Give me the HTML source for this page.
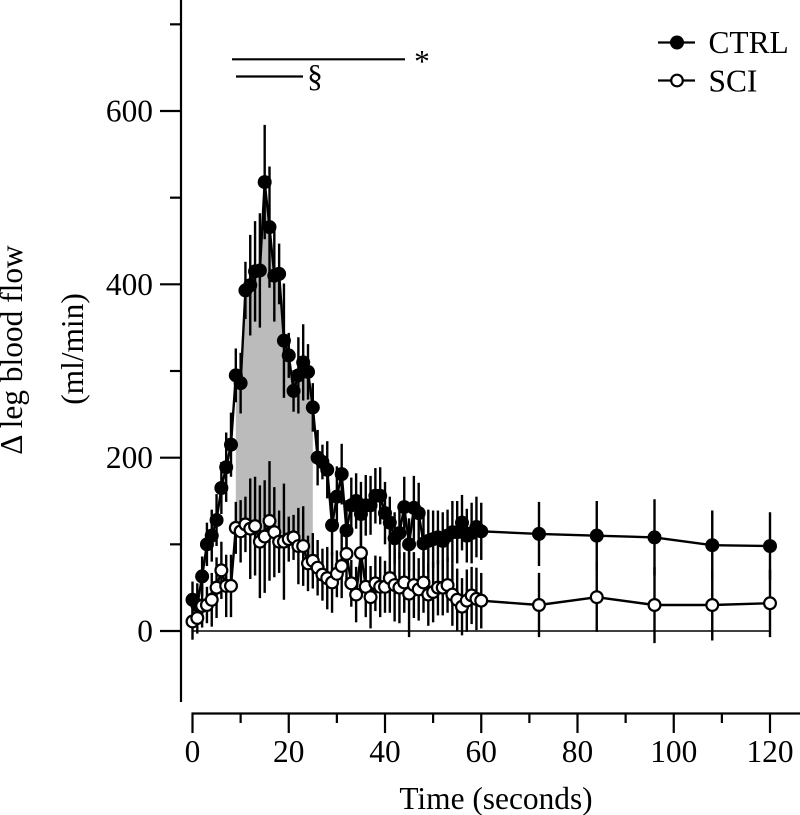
<!DOCTYPE html>
<html lang="en">
<head>
<meta charset="utf-8">
<title>Leg blood flow over time</title>
<style>
html,body{margin:0;padding:0;background:#fff;width:800px;height:815px;overflow:hidden}
svg{display:block}
text{font-family:"Liberation Serif","DejaVu Serif",serif;font-size:31.4px;fill:#000}
</style>
</head>
<body>
<svg id="chart" width="800" height="815" viewBox="0 0 800 815" xmlns="http://www.w3.org/2000/svg">
  <g id="fill-layer"></g>
  <g id="zero-layer"></g>
  <g id="axis-layer"></g>
  <g id="ctrl-layer"></g>
  <g id="sci-layer"></g>
  <text transform="translate(22,350) rotate(-90)" text-anchor="middle">Δ leg blood flow</text>
  <text transform="translate(83,349) rotate(-90)" text-anchor="middle">(ml/min)</text>
  <text x="496" y="809" text-anchor="middle">Time (seconds)</text>
  <line x1="232" y1="59.3" x2="405" y2="59.3" stroke="#000" stroke-width="2.2"/>
  <line x1="236" y1="76.5" x2="303" y2="76.5" stroke="#000" stroke-width="2.2"/>
  <text x="422" y="72" text-anchor="middle">*</text>
  <text x="315" y="86.5" text-anchor="middle">§</text>
  <g>
    <g>
      <line x1="658" y1="42.5" x2="695" y2="42.5" stroke="#000" stroke-width="2.2"/>
      <circle cx="677" cy="42.5" r="7" fill="#000"/>
      <text x="708.5" y="53">CTRL</text>
    </g>
    <g>
      <line x1="658" y1="80.5" x2="695" y2="80.5" stroke="#000" stroke-width="2.2"/>
      <circle cx="677" cy="80.5" r="5.8" fill="#fff" stroke="#000" stroke-width="2.2"/>
      <text x="708.5" y="91.5">SCI</text>
    </g>
  </g>
</svg>
<script>
const times = [0,1,2,3,4,5,6,7,8,9,10,11,12,13,14,15,16,17,18,19,20,21,22,23,24,25,26,27,28,29,30,31,32,33,34,35,36,37,38,39,40,41,42,43,44,45,46,47,48,49,50,51,52,53,54,55,56,57,58,59,60,72,84,96,108,120];
const ctrlValues = [36,30,63,100,110,128,165,189,215,295,286,393,399,415,416,518,466,410,412,335,318,277,295,310,299,258,200,195,186,122,155,181,116,145,150,135,145,145,156,156,136,125,107,113,143,100,142,136,101,104,106,108,104,110,114,114,125,110,113,120,115,112,110,108,99,98];
const ctrlErrors = [21,25,23,25,30,30,30,40,37,31,35,33,58,58,66,66,70,53,35,66,26,24,44,44,32,28,32,20,33,35,35,35,35,32,32,37,35,34,32,33,36,30,30,30,35,30,37,35,36,36,33,31,33,30,36,36,32,31,35,35,33,37,40,44,40,39];
const sciValues = [11,15,29,30,36,50,70,52,52,119,115,123,118,121,103,109,127,114,103,103,106,108,98,98,78,81,73,65,61,56,66,75,89,55,42,90,51,39,55,51,51,61,53,50,56,43,53,48,56,42,45,50,50,53,42,36,28,35,41,37,35,30,39,30,30,32];
const sciErrors = [21,18,25,21,31,35,33,36,36,30,36,32,58,57,65,65,69,52,36,67,26,26,44,46,32,32,32,30,36,35,27,37,36,27,32,37,35,36,32,35,30,40,42,41,35,50,38,36,35,36,35,32,32,32,36,36,33,36,33,36,32,37,40,44,41,39];
const xMajorTicks = [0,20,40,60,80,100,120];
const xMinorTicks = [10,30,50,70,90,110];
const yMajorTicks = [0,200,400,600];
const yMinorTicks = [100,300,500,700];
const shadeStart = 9;
const shadeEnd = 25;

const SVG_NS = 'http://www.w3.org/2000/svg';
function xScale(v){ return 192.5 + v * (770 - 192.5) / 120; }
function yScale(v){ return 631 - v * (631 - 111) / 600; }
function make(tag, attrs, parent){
  const el = document.createElementNS(SVG_NS, tag);
  for (const k in attrs) el.setAttribute(k, attrs[k]);
  parent.appendChild(el);
  return el;
}
const fillLayer = document.getElementById('fill-layer');
const zeroLayer = document.getElementById('zero-layer');
const axisLayer = document.getElementById('axis-layer');
const ctrlLayer = document.getElementById('ctrl-layer');
const sciLayer = document.getElementById('sci-layer');

/* shaded difference area */
const topPts = [], botPts = [];
times.forEach(function(t, i){
  if (t >= shadeStart && t <= shadeEnd) {
    topPts.push(xScale(t) + ',' + yScale(ctrlValues[i]));
    botPts.unshift(xScale(t) + ',' + yScale(sciValues[i]));
  }
});
const shade = make('polygon', {points: topPts.concat(botPts).join(' '), fill: '#bbbbbb'}, fillLayer);



/* zero line */
const zero = make('line', {x1: xScale(0), x2: xScale(120), y1: yScale(0), y2: yScale(0), stroke: '#000', 'stroke-width': 1.4}, zeroLayer);



/* y axis */
const yAxis = make('line', {x1: 181, x2: 181, y1: 0, y2: 702, stroke: '#000', 'stroke-width': 2.2}, axisLayer);


yMajorTicks.forEach(function(v){
  const t = make('line', {x1: 160, x2: 181, y1: yScale(v), y2: yScale(v), stroke: '#000', 'stroke-width': 2.2}, axisLayer);
  
  
  const l = make('text', {x: 153, y: yScale(v) + 10.5, 'text-anchor': 'end'}, axisLayer);
  
  
  l.textContent = v;
});
yMinorTicks.forEach(function(v){
  const t = make('line', {x1: 170, x2: 181, y1: yScale(v), y2: yScale(v), stroke: '#000', 'stroke-width': 2.2}, axisLayer);
  
  
});

/* x axis */
const xAxis = make('line', {x1: xScale(0) - 1, x2: 800, y1: 713.5, y2: 713.5, stroke: '#000', 'stroke-width': 2.2}, axisLayer);


xMajorTicks.forEach(function(v){
  const t = make('line', {x1: xScale(v), x2: xScale(v), y1: 713, y2: 733, stroke: '#000', 'stroke-width': 2.2}, axisLayer);
  
  
  const l = make('text', {x: xScale(v), y: 762, 'text-anchor': 'middle'}, axisLayer);
  
  
  l.textContent = v;
});
xMinorTicks.forEach(function(v){
  const t = make('line', {x1: xScale(v), x2: xScale(v), y1: 713, y2: 723, stroke: '#000', 'stroke-width': 2.2}, axisLayer);
  
  
});

/* CTRL series */
times.forEach(function(t, i){
  const e = make('line', {x1: xScale(t), x2: xScale(t), y1: yScale(ctrlValues[i] + ctrlErrors[i]), y2: yScale(ctrlValues[i] - ctrlErrors[i]), stroke: '#000', 'stroke-width': 2.4}, ctrlLayer);
  
  
});
const ctrlLine = make('polyline', {points: times.map(function(t, i){ return xScale(t) + ',' + yScale(ctrlValues[i]); }).join(' '), fill: 'none', stroke: '#000', 'stroke-width': 2.4, 'stroke-linejoin': 'round'}, ctrlLayer);


times.forEach(function(t, i){
  const c = make('circle', {cx: xScale(t), cy: yScale(ctrlValues[i]), r: 7, fill: '#000'}, ctrlLayer);
  
  
});

/* SCI series */
times.forEach(function(t, i){
  const e = make('line', {x1: xScale(t), x2: xScale(t), y1: yScale(sciValues[i] + sciErrors[i]), y2: yScale(sciValues[i] - sciErrors[i]), stroke: '#000', 'stroke-width': 2.4}, sciLayer);
  
  
});
const sciLine = make('polyline', {points: times.map(function(t, i){ return xScale(t) + ',' + yScale(sciValues[i]); }).join(' '), fill: 'none', stroke: '#000', 'stroke-width': 2.4, 'stroke-linejoin': 'round'}, sciLayer);


times.forEach(function(t, i){
  const c = make('circle', {cx: xScale(t), cy: yScale(sciValues[i]), r: 5.9, fill: '#fff', stroke: '#000', 'stroke-width': 2.2}, sciLayer);
  
  
});
</script>
</body>
</html>
